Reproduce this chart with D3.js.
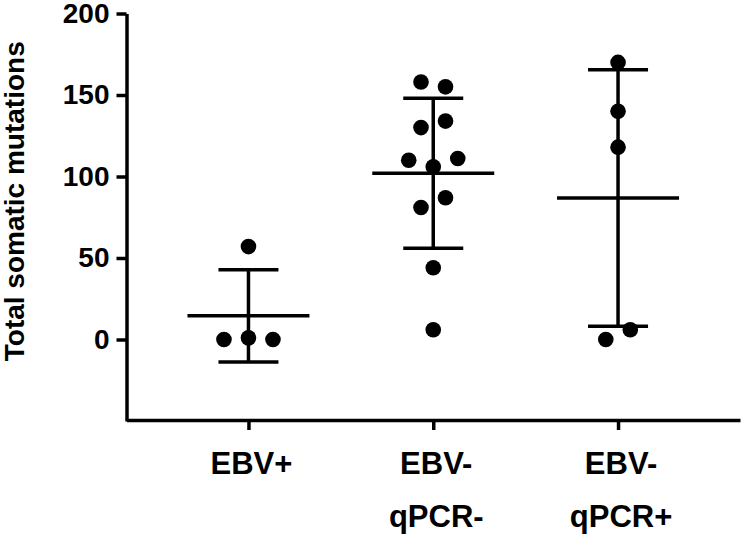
<!DOCTYPE html>
<html>
<head>
<meta charset="utf-8">
<script src="https://cdn.jsdelivr.net/npm/d3@7"></script>
<style>
  body { margin: 0; background: #fff; }
  svg { display: block; }
  text { font-family: "Liberation Sans", Arial, sans-serif; font-weight: bold; fill: #000; }
</style>
</head>
<body>
<div id="chart"></div>
<script>
// scatter dot plot with mean +/- SD, GraphPad style

const categories = ["EBV+", "EBV-|qPCR-", "EBV-|qPCR+"];
const ebvPos = [57, 0, 1, 0];
const ebvNegQpcrNeg = [158, 155, 130, 134, 110, 106, 111, 81, 87, 44, 6];
const ebvNegQpcrPos = [170, 140, 118, 0, 6];
const yTicks = [0, 50, 100, 150, 200];
const yTitle = "Total somatic mutations";

const groups = [ebvPos, ebvNegQpcrNeg, ebvNegQpcrPos];

const width = 744, height = 545;
const svg = d3.select("#chart").append("svg")
    .attr("width", width)
    .attr("height", height);

let x = d3.scalePoint().domain(categories).range([126.5, 740]).padding(0.66);
let y = d3.scaleLinear().domain([-50, 200]).range([421, 13.5]);

// y axis
let yAxis = d3.axisLeft(y).tickValues(yTicks).tickSize(10).tickSizeOuter(0).tickPadding(7);
let gy = svg.append("g")
    .attr("transform", "translate(126.5,0)")
    .call(yAxis);
gy.selectAll("text").style("font-size", "28px");

// x axis
let xAxis = d3.axisBottom(x).tickSize(10).tickSizeOuter(0).tickFormat("");
let gx = svg.append("g")
    .attr("transform", "translate(0,420)")
    .call(xAxis);

gy.selectAll("path, line").attr("stroke", "#000").attr("stroke-width", 3.5);
gx.selectAll("path, line").attr("stroke", "#000").attr("stroke-width", 3.5);

// two-line category labels
categories.forEach(function(c) {
    let lines = c.split("|");
    let t = svg.append("text")
        .attr("text-anchor", "middle")
        .style("font-size", "31px");
    lines.forEach(function(l, i) {
        t.append("tspan")
            .attr("x", x(c) + 3)
            .attr("y", 474 + i * 53)
            .text(l);
    });
});

// y title
svg.append("text")
    .attr("transform", "translate(24," + ((y(200) + y(-50)) / 2 - 16) + ") rotate(-90)")
    .attr("text-anchor", "middle")
    .style("font-size", "28px")
    .text(yTitle);

// dots: rows of close values are spread sideways in data order
const dotGap = 24.5;
function layout(vals) {
    let rows = [];
    vals.forEach(function(v) {
        let r = rows[rows.length - 1];
        if (r && Math.abs(v - r[0]) < 10) r.push(v);
        else rows.push([v]);
    });
    let out = [];
    rows.forEach(function(r) {
        r.forEach(function(v, i) {
            out.push({ value: v, off: (i - (r.length - 1) / 2) * dotGap });
        });
    });
    return out;
}

groups.forEach(function(vals, gi) {
    let cx = x(categories[gi]);
    let m = d3.mean(vals);
    let sd = d3.deviation(vals);
    let g = svg.append("g").attr("stroke", "#000").attr("stroke-width", 3.5);

    g.append("line")
        .attr("x1", cx).attr("x2", cx)
        .attr("y1", y(m + sd)).attr("y2", y(m - sd));
    [m + sd, m - sd].forEach(function(v) {
        g.append("line")
            .attr("x1", cx - 30).attr("x2", cx + 30)
            .attr("y1", y(v)).attr("y2", y(v));
    });
    g.append("line")
        .attr("x1", cx - 61).attr("x2", cx + 61)
        .attr("y1", y(m)).attr("y2", y(m));

    svg.append("g").selectAll("circle")
        .data(layout(vals))
        .join("circle")
        .attr("cx", d => cx + d.off)
        .attr("cy", d => y(d.value))
        .attr("r", 7.8)
        .attr("fill", "#000");
});
</script>
</body>
</html>
